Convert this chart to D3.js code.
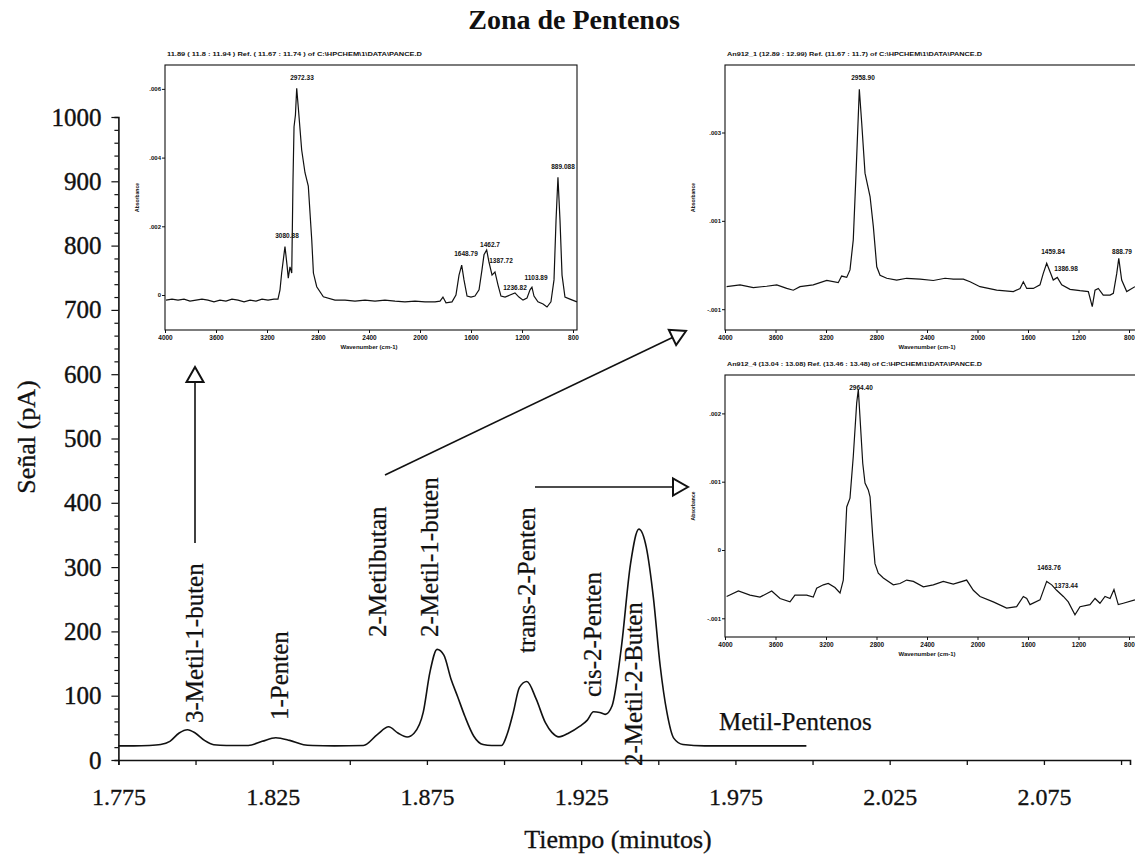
<!DOCTYPE html>
<html><head><meta charset="utf-8">
<script src="https://cdn.jsdelivr.net/npm/d3@7"></script>
<style>body{margin:0;background:#fff}svg{display:block}</style>
</head><body>
<svg id="c" width="1135" height="854"></svg>
<script>
// ---------------- DATA ----------------
const chartTitle = "Zona de Pentenos";
const xAxisTitle = "Tiempo (minutos)";
const yAxisTitle = "Señal (pA)";
const xTickValues = [1.775,1.8,1.825,1.85,1.875,1.9,1.925,1.95,1.975,2.0,2.025,2.05,2.075,2.1];
const xTickLabels = ["1.775","1.825","1.875","1.925","1.975","2.025","2.075"];
const yTickValues = [0,100,200,300,400,500,600,700,800,900,1000];

// chromatogram (retention time in min, signal in pA)
const timeMin = [1.775,1.780,1.785,1.7887,1.7917,1.7947,1.7974,1.7999,1.8029,1.8059,1.810,1.8171,1.8216,1.826,1.8305,1.835,1.838,1.845,1.8544,1.8589,1.8626,1.8656,1.8686,1.8709,1.8738,1.876,1.8783,1.8805,1.8828,1.885,1.8873,1.8902,1.8932,1.896,1.8992,1.901,1.903,1.905,1.9074,1.9104,1.9134,1.9155,1.9178,1.921,1.9246,1.927,1.929,1.931,1.9328,1.935,1.938,1.941,1.9437,1.9461,1.9484,1.9506,1.9528,1.955,1.958,1.965,1.975,1.985,1.998];
const signalPA = [22,22,22.5,24,29,42,47,42,30.5,23.7,22.5,22.6,29,34.7,30.5,23.7,22.6,22,22.6,39.5,51.6,42,35.8,42,74,137,172,163,126,98,68,37,24,22.5,22.5,40,74,113,122,95,58,43,36,42,52.6,62,75,74,71,84,174,305,359,331,253,147,74,34,24,22,22,22,22];

const peakNames = ["3-Metil-1-buten","1-Penten","2-Metilbutan","2-Metil-1-buten","trans-2-Penten","cis-2-Penten","2-Metil-2-Buten"];
const peakLabelTimes = [1.7998,1.8274,1.859,1.876,1.9073,1.9288,1.9421];
const groupLabel = "Metil-Pentenos";

// IR spectrum A (3-Metil-1-buten): wavenumber cm-1, absorbance x1000
const specA_wn = [3992,3945,3898,3851,3804,3757,3710,3663,3616,3569,3522,3475,3427,3380,3333,3286,3239,3192,3145,3114,3098,3085,3059,3043,3033,3020,3006,2996,2988,2977,2967,2955,2928,2902,2876,2849,2836,2810,2758,2667,2588,2510,2431,2353,2275,2196,2118,2039,1961,1882,1843,1820,1796,1749,1718,1694,1673,1655,1631,1600,1569,1537,1514,1498,1477,1459,1435,1412,1388,1365,1333,1294,1255,1224,1192,1161,1137,1122,1106,1075,1035,1004,973,949,933,918,902,886,863,824,769];
const specA_abs = [-0.15,-0.12,-0.15,-0.12,-0.18,-0.15,-0.12,-0.15,-0.2,-0.15,-0.18,-0.12,-0.15,-0.2,-0.15,-0.18,-0.12,-0.15,-0.12,-0.12,0.15,0.64,1.41,0.87,0.49,0.82,0.64,3.35,4.9,5.24,6.02,5.48,4.22,3.56,3.17,1.6,0.64,0.24,-0.05,-0.15,-0.15,-0.18,-0.15,-0.18,-0.15,-0.18,-0.2,-0.18,-0.2,-0.2,-0.18,-0.06,-0.23,-0.2,0,0.58,0.87,0.44,-0.03,-0.06,-0.03,0.15,0.73,1.17,1.31,0.96,0.58,0.67,0.29,-0.03,-0.06,0,0.06,-0.06,-0.15,-0.09,0.15,0.23,-0.03,-0.2,-0.26,-0.35,-0.2,0.44,2.18,3.43,2.18,0.58,-0.06,-0.12,-0.2];
const specA_yTicks = [0,2,4,6];
const specA_yLabels = ["0",".002",".004",".006"];
const specA_title = "11.89 ( 11.8 : 11.94 ) Ref. ( 11.67 : 11.74 ) of C:\\HPCHEM\\1\\DATA\\PANCE.D";
const specA_peaks = [["2972.33",302,80],["3080.88",287,238],["1648.79",466,256],["1462.7",490,247],["1387.72",501,263],["1236.82",515,290],["1103.89",536,280],["889.088",563,169]];

// IR spectrum B (2-Metilbutan / 2-Metil-1-buten)
const specB_wn = [3987,3881,3776,3670,3590,3511,3459,3406,3301,3194,3103,3076,3036,3010,2984,2962,2936,2917,2891,2851,2825,2798,2772,2719,2640,2561,2455,2350,2257,2192,2112,2059,1980,1848,1716,1663,1637,1610,1558,1505,1479,1452,1420,1400,1368,1333,1267,1188,1122,1091,1069,1043,1004,950,924,897,881,858,818,753];
const specB_abs = [-0.49,-0.45,-0.51,-0.48,-0.45,-0.53,-0.57,-0.49,-0.45,-0.35,-0.4,-0.25,-0.28,-0.11,0.57,2.08,3.98,3.21,2.08,1.55,0.87,-0.04,-0.23,-0.3,-0.34,-0.3,-0.32,-0.35,-0.3,-0.32,-0.32,-0.38,-0.49,-0.57,-0.6,-0.53,-0.38,-0.53,-0.53,-0.45,-0.19,0.04,-0.19,-0.34,-0.28,-0.45,-0.55,-0.58,-0.6,-0.94,-0.57,-0.53,-0.68,-0.68,-0.64,-0.19,0.15,-0.34,-0.6,-0.49];
const specB_yTicks = [-1,1,3];
const specB_yLabels = ["-.001",".001",".003"];
const specB_title = "An912_1 (12.89 : 12.99) Ref. (11.67 : 11.7) of C:\\HPCHEM\\1\\DATA\\PANCE.D";
const specB_peaks = [["2958.90",863,80],["1459.84",1053,254],["1386.98",1066,271],["888.79",1122,254]];

// IR spectrum C (trans-2-Penten / 2-Metil-2-Buten)
const specC_wn = [3987,3894,3802,3723,3630,3564,3485,3446,3353,3301,3274,3221,3182,3129,3089,3063,3036,3010,2984,2957,2944,2931,2909,2891,2865,2851,2830,2812,2786,2746,2667,2614,2561,2508,2429,2350,2271,2192,2086,2033,1980,1875,1769,1690,1637,1610,1584,1505,1452,1412,1373,1320,1281,1228,1188,1109,1069,1030,990,950,919,885,845,753];
const specC_abs = [-0.68,-0.6,-0.66,-0.69,-0.6,-0.71,-0.76,-0.66,-0.66,-0.69,-0.56,-0.51,-0.49,-0.55,-0.63,-0.44,0.63,0.76,1.37,2.15,2.35,1.95,1.27,0.98,0.88,0.78,0.2,-0.2,-0.34,-0.41,-0.51,-0.49,-0.44,-0.46,-0.54,-0.51,-0.46,-0.5,-0.44,-0.59,-0.68,-0.76,-0.85,-0.83,-0.68,-0.71,-0.8,-0.73,-0.46,-0.51,-0.59,-0.68,-0.76,-0.95,-0.83,-0.8,-0.71,-0.78,-0.68,-0.71,-0.58,-0.8,-0.78,-0.73];
const specC_yTicks = [-1,0,1,2];
const specC_yLabels = ["-.001","0",".001",".002"];
const specC_title = "An912_4 (13.04 : 13.08) Ref. (13.46 : 13.48) of C:\\HPCHEM\\1\\DATA\\PANCE.D";
const specC_peaks = [["2964.40",861,390],["1463.76",1049,570],["1373.44",1066,588]];

const wnTicks = [4000,3600,3200,2800,2400,2000,1600,1200,800];

// ---------------- DRAWING ----------------
const SERIF = "'Liberation Serif','Times New Roman',Times,serif";
const SANS = "'Liberation Sans',Arial,sans-serif";
const INK = "#111";
const svg = d3.select("#c");

const x = d3.scaleLinear().domain([1.775, 2.1029]).range([118.4, 1130]);
const y = d3.scaleLinear().domain([0, 1000]).range([760, 117]);

// title
svg.append("text").attr("x", 574).attr("y", 29).attr("text-anchor", "middle")
  .attr("font-family", SERIF).attr("font-weight", "bold").attr("font-size", 28)
  .attr("fill", INK).text(chartTitle);

// x axis
const xAxis = svg.append("g").attr("transform", "translate(0,760)")
  .call(d3.axisBottom(x).tickValues(xTickValues).tickSize(5)
    .tickFormat(d => { const s = d.toFixed(3); return xTickLabels.includes(s) ? s : ""; }));
xAxis.select(".domain").attr("stroke", INK).attr("stroke-width", 1.6);
xAxis.selectAll(".tick line").attr("stroke", INK).attr("stroke-width", 1.3);
xAxis.selectAll(".tick text").attr("font-family", SERIF).attr("font-size", 24)
  .attr("fill", INK).attr("stroke", INK).attr("stroke-width", 0.3).attr("y", 28);

// y axis
const yMinor = d3.range(0, 1001, 20);
const yAxis = svg.append("g").attr("transform", "translate(118.4,0)")
  .call(d3.axisLeft(y).tickValues(yMinor).tickSize(4).tickFormat(d => yTickValues.includes(d) ? String(d) : ""));
yAxis.select(".domain").attr("stroke", INK).attr("stroke-width", 1.6);
yAxis.selectAll(".tick line").attr("stroke", INK).attr("stroke-width", 1.2)
  .attr("x2", d => yTickValues.includes(d) ? -7 : -4);
yAxis.selectAll(".tick text").attr("font-family", SERIF).attr("font-size", 25)
  .attr("fill", INK).attr("stroke", INK).attr("stroke-width", 0.4).attr("x", -17);

// axis titles
svg.append("text").attr("transform", "translate(35,437) rotate(-90)").attr("text-anchor", "middle")
  .attr("font-family", SERIF).attr("font-size", 26).attr("fill", INK)
  .attr("stroke", INK).attr("stroke-width", 0.3).text(yAxisTitle);
svg.append("text").attr("x", 618).attr("y", 848).attr("text-anchor", "middle")
  .attr("font-family", SERIF).attr("font-size", 26).attr("fill", INK)
  .attr("stroke", INK).attr("stroke-width", 0.3).text(xAxisTitle);

// chromatogram
const chrom = timeMin.map((t, i) => [t, signalPA[i]]);
svg.append("path").datum(chrom)
  .attr("d", d3.line().x(d => x(d[0])).y(d => y(d[1])).curve(d3.curveMonotoneX))
  .attr("fill", "none").attr("stroke", INK).attr("stroke-width", 1.6);

// peak labels
const labelBottoms = [723, 720, 637, 637, 653, 697, 766];
peakNames.forEach((n, i) => {
  svg.append("text")
    .attr("transform", `translate(${x(peakLabelTimes[i]) + 8},${labelBottoms[i]}) rotate(-90)`)
    .attr("font-family", SERIF).attr("font-size", 25).attr("fill", INK)
    .attr("stroke", INK).attr("stroke-width", 0.25).text(n);
});
svg.append("text").attr("x", 719).attr("y", 730).attr("font-family", SERIF)
  .attr("font-size", 25).attr("fill", INK).attr("stroke", INK).attr("stroke-width", 0.25).text(groupLabel);

// arrows
function arrow(x1, y1, x2, y2) {
  const dx = x2 - x1, dy = y2 - y1, L = Math.hypot(dx, dy), ux = dx / L, uy = dy / L;
  const hl = 15, hw = 8.5;
  const bx = x2 - ux * hl, by = y2 - uy * hl;
  svg.append("line").attr("x1", x1).attr("y1", y1).attr("x2", bx).attr("y2", by)
    .attr("stroke", INK).attr("stroke-width", 1.6);
  svg.append("path").attr("d", `M${x2},${y2}L${bx - uy * hw},${by + ux * hw}L${bx + uy * hw},${by - ux * hw}Z`)
    .attr("fill", "#fff").attr("stroke", INK).attr("stroke-width", 2).attr("stroke-linejoin", "miter");
}
arrow(195, 543, 195, 367);
arrow(385, 475, 686, 331);
arrow(535, 487, 688, 487);

// insets
function inset(o) {
  const g = svg.append("g");
  const xs = d3.scaleLinear().domain([4000, 800]).range([o.x4000, o.x800]);
  const ys = d3.scaleLinear().domain(o.vdom).range(o.yr);
  g.append("rect").attr("x", o.left).attr("y", o.top).attr("width", o.right - o.left)
    .attr("height", o.bottom - o.top).attr("fill", "#fff").attr("stroke", INK).attr("stroke-width", 1.1);
  const la = g.append("g").attr("transform", `translate(${o.left},0)`)
    .call(d3.axisLeft(ys).tickValues(o.yt).tickSize(3).tickFormat((d, i) => o.yl[i]));
  la.select(".domain").remove();
  la.selectAll("line").attr("stroke", INK);
  la.selectAll("text").attr("font-family", SANS).attr("font-weight", "bold").attr("font-size", 6).attr("fill", INK).attr("x", -4);
  const ba = g.append("g").attr("transform", `translate(0,${o.bottom})`)
    .call(d3.axisBottom(xs).tickValues(wnTicks).tickSize(3).tickFormat(d3.format("d")));
  ba.select(".domain").remove();
  ba.selectAll("line").attr("stroke", INK);
  ba.selectAll("text").attr("font-family", SANS).attr("font-weight", "bold").attr("font-size", 6.5).attr("fill", INK).attr("y", 5);
  g.append("text").attr("x", o.left + 2).attr("y", o.top - 9).attr("font-family", SANS).attr("font-weight", "bold")
    .attr("font-size", 6).attr("textLength", 255).attr("lengthAdjust", "spacingAndGlyphs").attr("fill", INK).text(o.title);
  g.append("text").attr("x", (o.x4000 + o.x800) / 2).attr("y", o.bottom + 19).attr("text-anchor", "middle")
    .attr("font-family", SANS).attr("font-weight", "bold").attr("font-size", 6).attr("fill", INK).text("Wavenumber (cm-1)");
  g.append("text").attr("transform", `translate(${o.ylabX},${(o.top + o.bottom) / 2}) rotate(-90)`).attr("text-anchor", "middle")
    .attr("font-family", SANS).attr("font-weight", "bold").attr("font-size", 5).attr("fill", INK).text("Absorbance");
  const pts = o.wn.map((w, i) => [w, o.abs[i]]);
  g.append("path").datum(pts).attr("d", d3.line().x(d => xs(d[0])).y(d => ys(d[1])))
    .attr("fill", "none").attr("stroke", INK).attr("stroke-width", 1.2);
  o.peaks.forEach(p => g.append("text").attr("x", p[1]).attr("y", p[2]).attr("text-anchor", "middle")
    .attr("font-family", SANS).attr("font-weight", "bold").attr("font-size", 6.5).attr("fill", INK).text(p[0]));
}
inset({left: 165, right: 577, top: 65, bottom: 330, x4000: 165, x800: 573, vdom: [0, 6], yr: [295, 88.9],
  yt: specA_yTicks, yl: specA_yLabels, title: specA_title, wn: specA_wn, abs: specA_abs, peaks: specA_peaks, ylabX: 139});
inset({left: 725, right: 1142, top: 65, bottom: 330, x4000: 725, x800: 1129, vdom: [-1, 3], yr: [309.2, 132.5],
  yt: specB_yTicks, yl: specB_yLabels, title: specB_title, wn: specB_wn, abs: specB_abs, peaks: specB_peaks, ylabX: 695});
inset({left: 725, right: 1142, top: 375, bottom: 637, x4000: 725, x800: 1129, vdom: [-1, 2], yr: [618.3, 413.4],
  yt: specC_yTicks, yl: specC_yLabels, title: specC_title, wn: specC_wn, abs: specC_abs, peaks: specC_peaks, ylabX: 695});
</script>
</body></html>
